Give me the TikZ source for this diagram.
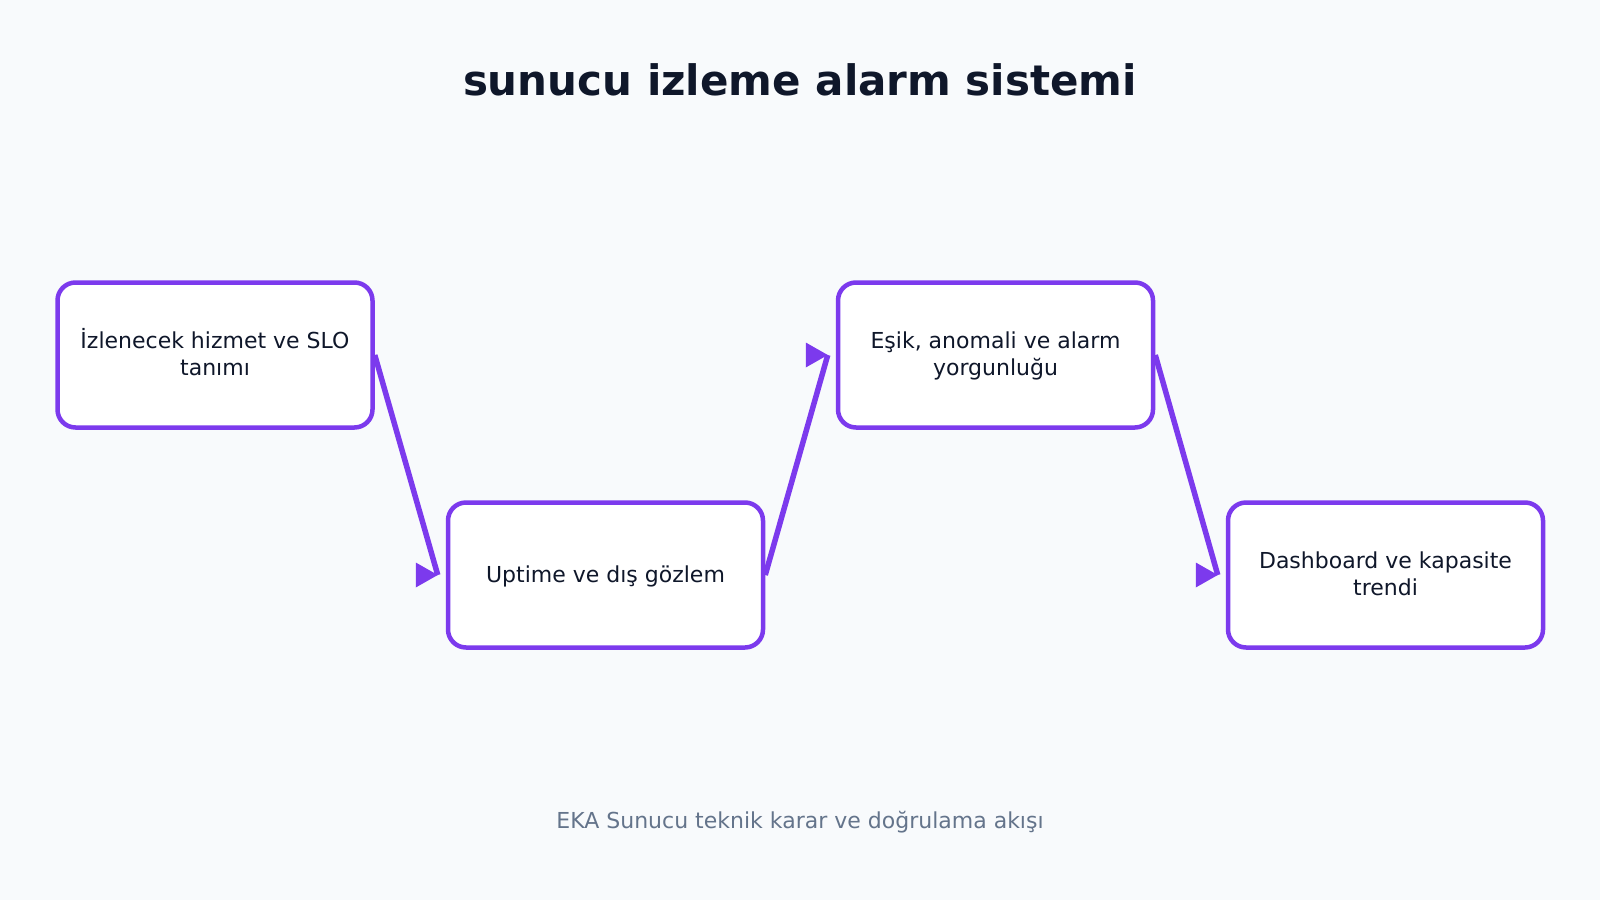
\documentclass[tikz,border=0pt]{standalone}
\usepackage{fontspec}
\setmainfont{DejaVu Sans}
\usetikzlibrary{calc}
\definecolor{bgc}{HTML}{F8FAFC}
\definecolor{strokec}{HTML}{7C3AED}
\definecolor{titlec}{HTML}{0F172A}
\definecolor{textc}{HTML}{0F172A}
\definecolor{footc}{HTML}{64748B}
\newcommand{\mytopstrut}{\rule{0pt}{23pt}}
\newcommand{\mybotstrut}{\rule[-8.1pt]{0pt}{8.1pt}}
\tikzset{
  stepbox/.style={draw=strokec, line width=4.5pt, fill=white, rounded corners=18pt,
    minimum width=315pt, minimum height=145pt, inner sep=0pt, align=center,
    text=textc, font=\fontsize{22pt}{27pt}\selectfont},
  conn/.style={draw=strokec, line width=5.5pt},
  headc/.style={fill=strokec},
  titletext/.style={font=\fontsize{42pt}{50pt}\selectfont\bfseries, text=titlec, inner sep=0pt, anchor=base},
  foottext/.style={font=\fontsize{22pt}{27pt}\selectfont, text=footc, inner sep=0pt, anchor=base}
}
\begin{document}
\begin{tikzpicture}[x=1pt,y=-1pt]
\fill[bgc] (0,0) rectangle (1600,900);
\useasboundingbox (0,0) rectangle (1600,900);
\node[titletext] (title) at (800,95) {sunucu izleme alarm sistemi};
\node[stepbox] (b1) at (215,355) {\mytopstrut İzlenecek hizmet ve SLO\\tanımı\mybotstrut};
\node[stepbox] (b2) at (605.5,575) {\mytopstrut Uptime ve dış gözlem\mybotstrut};
\node[stepbox] (b3) at (995.5,355) {\mytopstrut Eşik, anomali ve alarm\\yorgunluğu\mybotstrut};
\node[stepbox] (b4) at (1385.5,575) {\mytopstrut Dashboard ve kapasite\\trendi\mybotstrut};
\node[foottext] (foot) at (800,828) {EKA Sunucu teknik karar ve doğrulama akışı};
\coordinate (e1) at ($(b2.west)+(-8,0)$);
\coordinate (e2) at ($(b3.west)+(-8,0)$);
\coordinate (e3) at ($(b4.west)+(-8,0)$);
\draw[conn] (b1.east) -- (e1);
\draw[conn] (b2.east) -- (e2);
\draw[conn] (b3.east) -- (e3);
\fill[headc] (e1) -- ++(-22,-12.5) -- ++(0,25) -- cycle;
\fill[headc] (e2) -- ++(-22,-12.5) -- ++(0,25) -- cycle;
\fill[headc] (e3) -- ++(-22,-12.5) -- ++(0,25) -- cycle;
\end{tikzpicture}
\end{document}
